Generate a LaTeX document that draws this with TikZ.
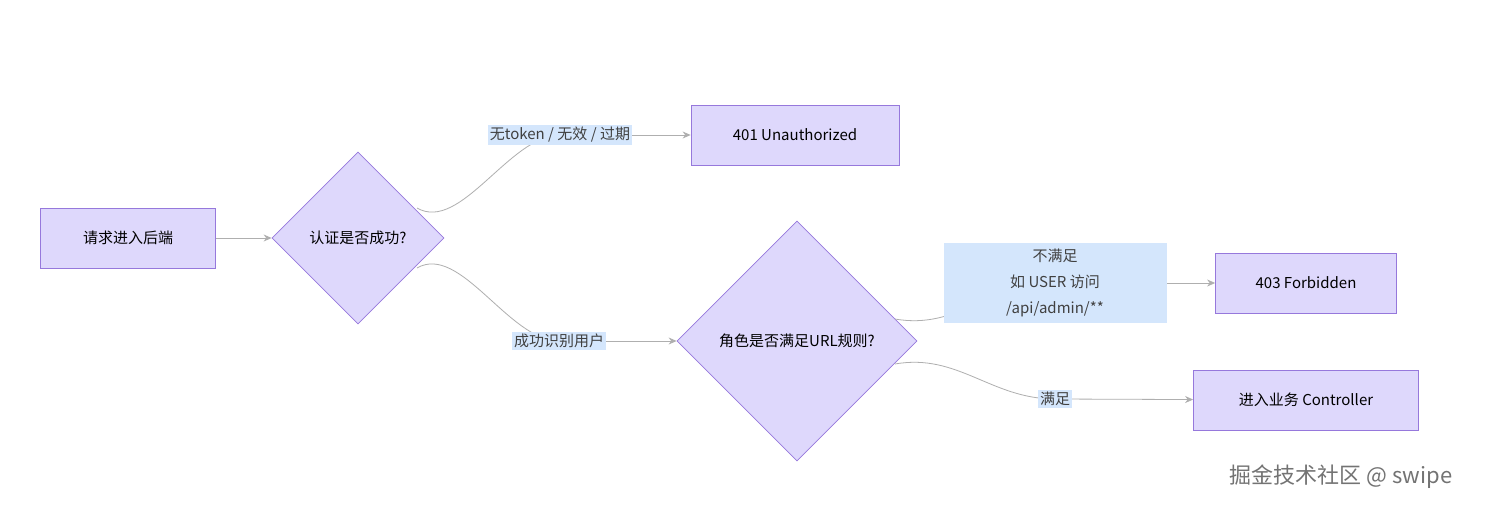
\documentclass[tikz,border=0pt]{standalone}
\usepackage{fontspec}
\setmainfont{Noto Sans CJK SC}
\usetikzlibrary{positioning,shapes.geometric,arrows.meta}
\definecolor{boxfill}{RGB}{222,216,252}
\definecolor{boxline}{RGB}{150,120,220}
\definecolor{lblfill}{RGB}{212,230,252}
\definecolor{edgecol}{RGB}{175,175,175}
\begin{document}
\begin{tikzpicture}[x=1pt,y=-1pt,
                    font=\fontsize{15}{24}\selectfont,
                    box/.style={rectangle,fill=boxfill,draw=boxline,line width=0.8pt,
                                inner sep=0pt},
                    dia/.style={diamond,fill=boxfill,draw=boxline,line width=0.8pt,
                                inner sep=0pt,aspect=1},
                    lbl/.style={fill=lblfill,inner sep=2pt,text=black!75,align=center},
                    edge/.style={draw=edgecol,line width=0.8pt,
                                 -{Stealth[length=8pt,width=7pt]}}
                   ]
   \useasboundingbox[fill=white] (0,0) rectangle (1486,508);
   \node[box,minimum width=175,minimum height=60] (req) at (128,238) {请求进入后端};
   \node[dia,minimum width=172,minimum height=172] (auth) at (358,238) {认证是否成功?};
   \node[box,minimum width=208,minimum height=60] (e401) at (795,135) {401 Unauthorized};
   \node[dia,minimum width=240,minimum height=240] (role) at (797,341) {角色是否满足URL规则?};
   \node[box,minimum width=181,minimum height=60] (e403) at (1306,283) {403 Forbidden};
   \node[box,minimum width=225,minimum height=60] (ctrl) at (1306,400) {进入业务 Controller};
   \coordinate (l1) at (560,135);
   \coordinate (l2) at (559,341);
   \coordinate (l3) at (1055,283);
   \coordinate (l4) at (1055,399);
   % edges
   \draw[edge] (req) -- (auth);
   \draw[draw=edgecol,line width=0.8pt] (417,208) to[out=-30,in=180,looseness=0.8] (l1);
   \draw[edge] (l1) -- (e401);
   \draw[draw=edgecol,line width=0.8pt] (417,268) to[out=30,in=180,looseness=0.8] (l2);
   \draw[edge] (l2) -- (role);
   \draw[draw=edgecol,line width=0.8pt] (895,319) to[out=-10,in=180] (l3);
   \draw[edge] (l3) -- (e403);
   \draw[draw=edgecol,line width=0.8pt] (895,364) to[out=10,in=180] (l4);
   \draw[edge] (l4) -- (ctrl);
   % edge labels
   \node[lbl] (t1) at (l1) {无token / 无效 / 过期};
   \node[lbl] (t2) at (l2) {成功识别用户};
   \node[lbl,minimum width=223,minimum height=80,inner sep=0pt,
         font=\fontsize{15}{26}\selectfont] (t3) at (l3) {不满足\\如 USER 访问\\/api/admin/**};
   \node[lbl] (t4) at (l4) {满足};
   \node[text=black!55,font=\fontsize{22}{26}\selectfont] (mark) at (1341,477) {掘金技术社区 @ swipe};
\end{tikzpicture}
\end{document}
